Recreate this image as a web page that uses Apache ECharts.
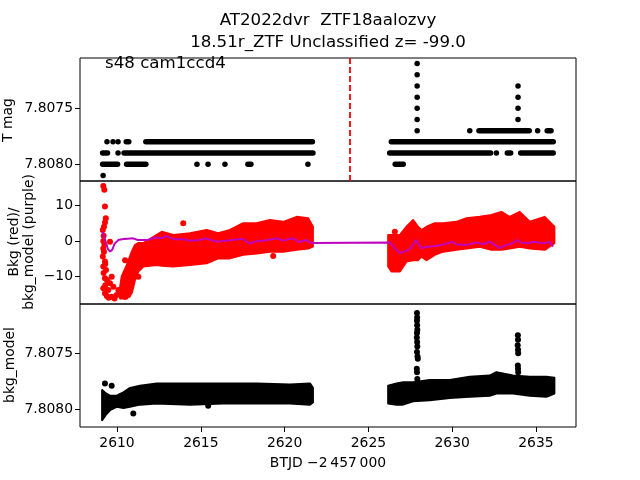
<!DOCTYPE html>
<html>
<head>
<meta charset="utf-8">
<script src="https://cdn.jsdelivr.net/npm/echarts@6/dist/echarts.min.js"></script>
<style>
html, body { margin: 0; padding: 0; background: #fff; }
#chart { width: 640px; height: 480px; }
</style>
</head>
<body>
<div id="chart"></div>
<script>
// top panel: runs of quantized T mag points, [t start, t end, mag]
const magRuns = [
	[2609.40, 2609.40, 7.8078], [2609.76, 2609.76, 7.8078], [2610.06, 2610.06, 7.8078],
	[2610.55, 2610.70, 7.8078], [2611.72, 2621.66, 7.8078], [2626.37, 2636.03, 7.8078],
	[2609.14, 2609.43, 7.8079], [2610.06, 2610.06, 7.8079], [2610.42, 2621.69, 7.8079],
	[2626.27, 2632.29, 7.8079], [2632.64, 2632.64, 7.8079], [2633.29, 2633.49, 7.8079],
	[2634.09, 2636.03, 7.8079],
	[2609.14, 2610.03, 7.8080], [2610.57, 2611.72, 7.8080], [2614.77, 2614.77, 7.8080],
	[2615.43, 2615.43, 7.8080], [2616.44, 2616.44, 7.8080], [2617.81, 2617.99, 7.8080],
	[2621.39, 2621.39, 7.8080], [2626.60, 2627.08, 7.8080],
	[2609.17, 2609.17, 7.8081],
	[2631.05, 2631.05, 7.8077], [2631.60, 2634.60, 7.8077], [2635.10, 2635.10, 7.8077],
	[2635.67, 2635.90, 7.8077]
];
const magSpikes = [
	[2627.91, 7.8071], [2627.91, 7.8072], [2627.91, 7.8073], [2627.91, 7.8074],
	[2627.91, 7.8075], [2627.91, 7.8076], [2627.91, 7.8077],
	[2633.93, 7.8073], [2633.93, 7.8074], [2633.93, 7.8075], [2633.93, 7.8076]
];
// middle panel: background (red) as band [t, low, high] + scattered points, model (purple) line
const bkgBandLeft = [
	[2610.18, -16.2, -13.0], [2610.28, -16.2, -10.0], [2610.58, -16.2, -6.8], [2610.88, -14.7, -3.0],
	[2611.07, -11.0, -1.1], [2611.27, -8.6, -0.6], [2611.57, -7.2, -0.6], [2612.37, -6.8, 1.7],
	[2612.67, -7.0, 2.6], [2613.36, -7.2, 1.7], [2614.35, -6.8, 2.2], [2615.35, -6.3, 3.1],
	[2616.04, -4.9, 2.2], [2616.74, -4.9, 3.1], [2617.53, -3.9, 5.0], [2618.33, -3.5, 5.0],
	[2619.12, -3.0, 5.9], [2619.92, -3.0, 5.4], [2620.72, -2.5, 6.8], [2621.41, -2.1, 6.4],
	[2621.69, -1.6, 4.0]
];
const bkgBandRight = [
	[2626.18, -7.2, 1.7], [2626.38, -8.6, 1.7], [2626.88, -8.6, 1.7], [2627.27, -5.8, 4.0],
	[2627.67, -5.4, 5.9], [2627.97, -5.4, 4.0], [2628.17, -4.4, 3.1], [2628.47, -5.4, 4.0],
	[2628.96, -3.9, 5.0], [2629.46, -3.0, 5.0], [2630.26, -2.5, 5.4], [2630.85, -2.1, 6.4],
	[2631.65, -1.6, 6.8], [2632.34, -2.5, 7.3], [2632.94, -2.5, 8.2], [2633.43, -2.1, 6.8],
	[2634.03, -1.6, 8.2], [2634.63, -2.1, 5.4], [2635.52, -2.5, 6.8], [2636.10, -0.6, 4.0]
];
const bkgPoints = [
	[2609.18, 15.5], [2609.24, 14.4], [2609.28, 9.7], [2609.33, 6.4], [2609.28, 5.2], [2609.22, 4.0],
	[2609.15, 3.1], [2609.20, 1.5], [2609.18, 0.0], [2609.25, -1.0], [2609.18, -2.1], [2609.22, -3.0],
	[2609.15, -4.4], [2609.28, -5.8], [2609.30, -6.5], [2609.18, -7.2], [2609.34, -8.2], [2609.20, -9.0],
	[2609.58, -0.2], [2609.28, -10.5], [2609.68, -10.1], [2609.40, -11.0], [2609.58, -11.9],
	[2609.30, -12.5], [2609.18, -13.3], [2609.48, -13.8], [2609.78, -12.9], [2609.39, -15.5],
	[2609.68, -15.7], [2609.28, -14.7], [2609.50, -16.0], [2609.85, -16.2], [2610.08, -13.8],
	[2609.98, -15.2], [2610.38, -14.7], [2610.48, -15.7], [2610.67, -15.2], [2610.58, -13.8],
	[2611.07, -5.8], [2610.48, -5.4], [2611.27, -10.1], [2613.95, 5.0], [2619.32, -4.2], [2626.58, 2.6]
];
const bkgModel = [
	[2609.15, 2.6], [2609.30, 0.0], [2609.45, -2.2], [2609.59, -3.0], [2609.72, -2.4], [2609.85, -0.8],
	[2610.08, 0.3], [2610.28, 0.5], [2610.95, 0.75], [2611.25, 0.3], [2611.85, 0.3], [2612.27, 1.0],
	[2612.67, 0.75], [2612.97, 1.4], [2613.35, 0.5], [2613.95, 0.5], [2614.35, 0.1], [2614.95, 0.3],
	[2615.25, 0.75], [2615.73, 0.1], [2616.03, -0.2], [2616.30, 0.0], [2616.90, 0.3], [2617.50, 0.6],
	[2617.90, -0.7], [2618.30, -0.1], [2618.90, 0.2], [2619.60, 0.75], [2619.90, 0.1], [2620.50, 0.75],
	[2620.90, -0.3], [2621.30, 0.3], [2621.60, -0.6],
	[2626.28, -0.4], [2626.58, -2.1], [2626.88, -3.4], [2627.17, -3.0], [2627.47, -2.3], [2627.67, -1.1],
	[2627.83, 0.3], [2627.97, -0.6], [2628.17, -2.0], [2628.56, -1.6], [2628.96, -1.4], [2629.36, -1.1],
	[2629.76, -0.65], [2629.96, -0.2], [2630.26, -0.9], [2630.65, -1.1], [2631.05, -0.9], [2631.45, -0.4],
	[2631.82, -0.9], [2632.24, -0.2], [2632.54, -1.1], [2632.84, -2.0], [2633.24, -1.1], [2633.61, -0.65],
	[2633.87, 0.3], [2634.13, -0.5], [2634.53, -0.65], [2634.81, -0.2], [2635.22, -0.5], [2635.52, -0.65],
	[2635.82, -0.2], [2636.02, -1.6]
];
// bottom panel: bkg_model band [t, bright edge, faint edge] + spike points
const modelBandLeft = [
	[2609.11, 7.80783, 7.80810], [2609.34, 7.80786, 7.80805], [2609.58, 7.80788, 7.80801],
	[2609.98, 7.80788, 7.80798], [2610.38, 7.80785, 7.80799], [2610.78, 7.80781, 7.80798],
	[2611.37, 7.80779, 7.80796], [2612.37, 7.80777, 7.80795], [2614.35, 7.80777, 7.80796],
	[2616.34, 7.80777, 7.80795], [2618.33, 7.80777, 7.80795], [2620.32, 7.80778, 7.80795],
	[2621.51, 7.80777, 7.80796], [2621.69, 7.80781, 7.80794]
];
const modelBandRight = [
	[2626.18, 7.80779, 7.80795], [2626.68, 7.80777, 7.80796], [2627.07, 7.80776, 7.80796],
	[2627.67, 7.80776, 7.80793], [2628.66, 7.80774, 7.80792], [2629.86, 7.80774, 7.80790],
	[2631.05, 7.80771, 7.80789], [2632.24, 7.80770, 7.80788], [2632.64, 7.80767, 7.80786],
	[2633.63, 7.80770, 7.80786], [2634.63, 7.80771, 7.80788], [2635.62, 7.80771, 7.80789],
	[2636.10, 7.80772, 7.80786]
];
const modelPoints = [
	[2609.28, 7.80777], [2609.68, 7.80779], [2610.97, 7.80804], [2615.44, 7.80797],
	[2627.90, 7.80714], [2627.91, 7.80718], [2627.90, 7.80721], [2627.91, 7.80725], [2627.92, 7.80729],
	[2627.90, 7.80732], [2627.89, 7.80736], [2627.91, 7.80740], [2627.92, 7.80744], [2627.90, 7.80749],
	[2627.93, 7.80753], [2627.95, 7.80755], [2627.89, 7.80764], [2627.90, 7.80767], [2627.92, 7.80773],
	[2633.92, 7.80734], [2633.93, 7.80738], [2633.91, 7.80743], [2633.93, 7.80747], [2633.94, 7.80750],
	[2633.92, 7.80761], [2633.93, 7.80764], [2633.94, 7.80767]
];
const xTicks = [2610, 2615, 2620, 2625, 2630, 2635];
const magTicks = [7.8075, 7.8080];
const bkgTicks = [-10, 0, 10];
const eventTime = 2623.9;

const FONT = 'DejaVu Sans';
const chart = echarts.init(document.getElementById('chart'));

function bandSeries(data, color, idx) {
	return {
		type: 'custom', xAxisIndex: idx, yAxisIndex: idx, clip: true,
		data: data,
		encode: { x: 0, y: [1, 2] },
		renderItem: function (params, api) {
			if (params.dataIndex !== 0) return null;
			const a = data.map(d => api.coord([d[0], d[2]]));
			const b = data.map(d => api.coord([d[0], d[1]])).reverse();
			return {
				type: 'polygon',
				shape: { points: a.concat(b) },
				style: { fill: color, stroke: color, lineWidth: 2, lineJoin: 'round' }
			};
		}
	};
}

const grids = [58, 181, 304].map(top => ({
	left: 80, top: top, width: 496, height: 123,
	show: true, borderColor: '#000', borderWidth: 1
}));

const tickLabel = { color: '#000', fontSize: 13.9, fontFamily: FONT };

const options = {
	animation: false,
	grid: grids,
	xAxis: [0, 1, 2].map(i => ({
		type: 'value', gridIndex: i, min: 2607.79, max: 2637.39,
		axisLine: { show: false }, splitLine: { show: false },
		axisTick: { show: i === 2, length: 5, lineStyle: { color: '#000' }, customValues: xTicks },
		axisLabel: Object.assign({ show: i === 2, margin: 9, customValues: xTicks, formatter: v => String(v) }, tickLabel)
	})),
	yAxis: [
		{
			type: 'value', gridIndex: 0, inverse: true, min: 7.80705, max: 7.80815,
			axisLine: { show: false }, splitLine: { show: false },
			axisTick: { show: true, length: 5, lineStyle: { color: '#000' }, customValues: magTicks },
			axisLabel: Object.assign({ margin: 7, customValues: magTicks, formatter: v => v.toFixed(4) }, tickLabel)
		},
		{
			type: 'value', gridIndex: 1, min: -17.75, max: 16.9,
			axisLine: { show: false }, splitLine: { show: false },
			axisTick: { show: true, length: 5, lineStyle: { color: '#000' }, customValues: bkgTicks },
			axisLabel: Object.assign({ margin: 7, customValues: bkgTicks,
				formatter: v => v < 0 ? '\u2212' + Math.abs(v) : String(v) }, tickLabel)
		},
		{
			type: 'value', gridIndex: 2, inverse: true, min: 7.80706, max: 7.80816,
			axisLine: { show: false }, splitLine: { show: false },
			axisTick: { show: true, length: 5, lineStyle: { color: '#000' }, customValues: magTicks },
			axisLabel: Object.assign({ margin: 7, customValues: magTicks, formatter: v => v.toFixed(4) }, tickLabel)
		}
	],
	graphic: [
		{ type: 'text', x: 328, y: 21, style: { text: 'AT2022dvr  ZTF18aalozvy', align: 'center', verticalAlign: 'middle', font: '16.67px "DejaVu Sans"', fill: '#000' } },
		{ type: 'text', x: 328, y: 43, style: { text: '18.51r_ZTF Unclassified z= -99.0', align: 'center', verticalAlign: 'middle', font: '16.67px "DejaVu Sans"', fill: '#000' } },
		{ type: 'text', x: 105, y: 64, z: 10, style: { text: 's48 cam1ccd4', align: 'left', verticalAlign: 'middle', font: '16.67px "DejaVu Sans"', fill: '#000' } },
		{ type: 'text', x: 8, y: 120, rotation: Math.PI / 2, style: { text: 'T mag', align: 'center', verticalAlign: 'middle', font: '13.9px "DejaVu Sans"', fill: '#000' } },
		{ type: 'text', x: 14, y: 242, rotation: Math.PI / 2, style: { text: 'Bkg (red)/', align: 'center', verticalAlign: 'middle', font: '13.9px "DejaVu Sans"', fill: '#000' } },
		{ type: 'text', x: 29, y: 242, rotation: Math.PI / 2, style: { text: 'bkg_model (purple)', align: 'center', verticalAlign: 'middle', font: '13.9px "DejaVu Sans"', fill: '#000' } },
		{ type: 'text', x: 10, y: 365, rotation: Math.PI / 2, style: { text: 'bkg_model', align: 'center', verticalAlign: 'middle', font: '13.9px "DejaVu Sans"', fill: '#000' } },
		{ type: 'text', x: 328, y: 463, style: { text: 'BTJD \u22122\u2009457\u2009000', align: 'center', verticalAlign: 'middle', font: '13.9px "DejaVu Sans"', fill: '#000' } }
	],
	series: [
		{
			type: 'custom', xAxisIndex: 0, yAxisIndex: 0, clip: true,
			data: magRuns,
			encode: { x: [0, 1], y: 2 },
			renderItem: function (params, api) {
				const a = api.coord([api.value(0), api.value(2)]);
				const b = api.coord([api.value(1), api.value(2)]);
				return {
					type: 'line',
					shape: { x1: a[0], y1: a[1], x2: b[0] + 0.01, y2: b[1] },
					style: { stroke: '#000', lineWidth: 5.5, lineCap: 'round' }
				};
			},
			markLine: {
				silent: true, symbol: 'none', label: { show: false },
				lineStyle: { color: '#ff0000', width: 1.8, type: [6, 3] },
				data: [{ xAxis: eventTime }]
			}
		},
		{
			type: 'scatter', xAxisIndex: 0, yAxisIndex: 0, data: magSpikes,
			symbolSize: 5.5, itemStyle: { color: '#000', opacity: 1 }
		},
		bandSeries(bkgBandLeft, '#ff0000', 1),
		bandSeries(bkgBandRight, '#ff0000', 1),
		{
			type: 'scatter', xAxisIndex: 1, yAxisIndex: 1, data: bkgPoints,
			symbolSize: 6, itemStyle: { color: '#ff0000', opacity: 1 }
		},
		{
			type: 'line', xAxisIndex: 1, yAxisIndex: 1, data: bkgModel,
			symbol: 'none', lineStyle: { color: '#bf00bf', width: 2 }, z: 5
		},
		bandSeries(modelBandLeft, '#000', 2),
		bandSeries(modelBandRight, '#000', 2),
		{
			type: 'scatter', xAxisIndex: 2, yAxisIndex: 2, data: modelPoints,
			symbolSize: 6, itemStyle: { color: '#000', opacity: 1 }
		}
	]
};

chart.setOption(options);
</script>
</body>
</html>
